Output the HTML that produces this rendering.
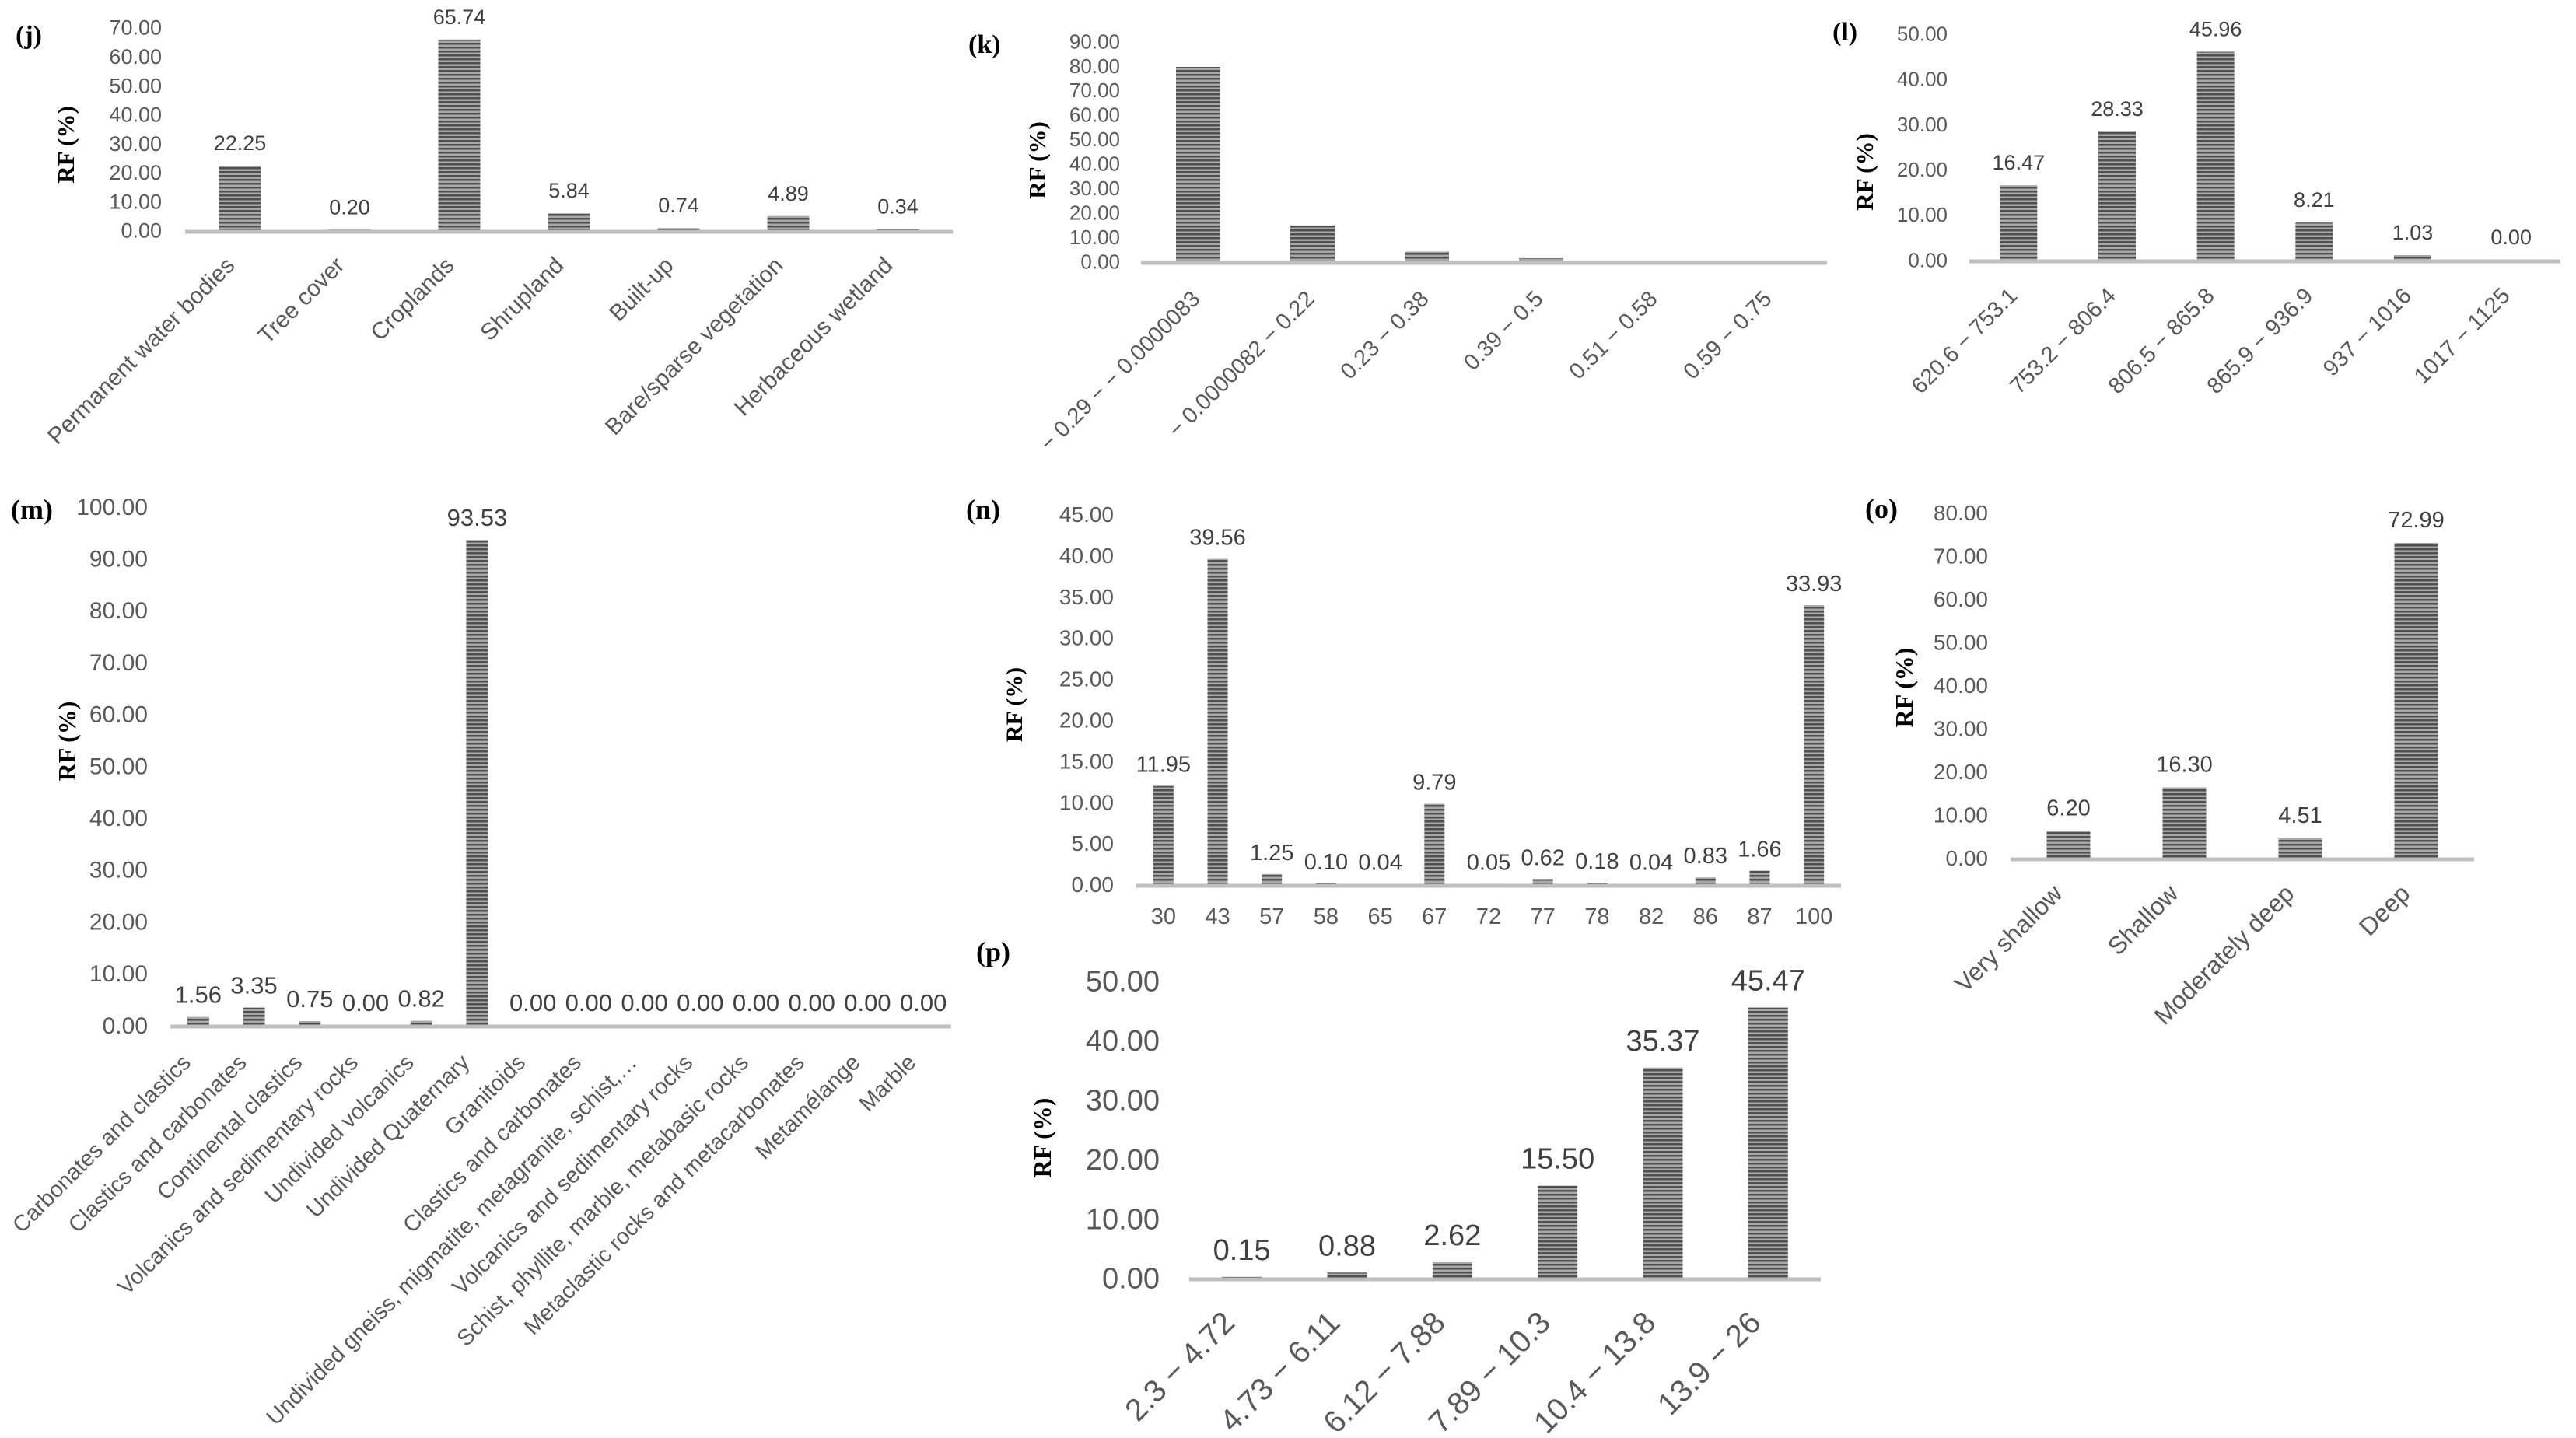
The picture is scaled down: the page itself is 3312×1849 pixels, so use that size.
<!DOCTYPE html>
<html><head><meta charset="utf-8"><style>
html,body{margin:0;padding:0;background:#fff;}
svg{display:block;}
text{font-family:"Liberation Sans",sans-serif;}
.pl{font-family:"Liberation Serif",serif;font-weight:bold;fill:#000;}
</style></head><body>
<svg id="fig" width="3312" height="1849" xmlns="http://www.w3.org/2000/svg">
<defs>
<pattern id="stripe" width="8" height="5" patternUnits="userSpaceOnUse">
<rect width="8" height="5" fill="#a8a8a8"/><rect width="8" height="2.5" fill="#4f4f4f"/>
</pattern>
</defs>
</svg>
<script>
// ---- data ----
const jCats=["Permanent water bodies","Tree cover","Croplands","Shrupland","Built-up","Bare/sparse vegetation","Herbaceous wetland"];
const jVals=[22.25,0.20,65.74,5.84,0.74,4.89,0.34];
const jTicks=[0,10,20,30,40,50,60,70];
const kCats=["\u2212 0.29 \u2212 \u2212 0.0000083","\u2212 0.0000082 \u2212 0.22","0.23 \u2212 0.38","0.39 \u2212 0.5","0.51 \u2212 0.58","0.59 \u2212 0.75"];
const kVals=[79.5,14.7,4.0,1.3,0,0];
const kTicks=[0,10,20,30,40,50,60,70,80,90];
const lCats=["620.6 \u2212 753.1","753.2 \u2212 806.4","806.5 \u2212 865.8","865.9 \u2212 936.9","937 \u2212 1016","1017 \u2212 1125"];
const lVals=[16.47,28.33,45.96,8.21,1.03,0.00];
const lTicks=[0,10,20,30,40,50];
const mCats=["Carbonates and clastics","Clastics and carbonates","Continental clastics","Volcanics and sedimentary rocks","Undivided volcanics","Undivided Quaternary","Granitoids","Clastics and carbonates","Undivided gneiss, migmatite, metagranite, schist,\u2026","Volcanics and sedimentary rocks","Schist, phyllite, marble, metabasic rocks","Metaclastic rocks and metacarbonates","Metam\u00e9lange","Marble"];
const mVals=[1.56,3.35,0.75,0.00,0.82,93.53,0,0,0,0,0,0,0,0];
const mTicks=[0,10,20,30,40,50,60,70,80,90,100];
const nCats=["30","43","57","58","65","67","72","77","78","82","86","87","100"];
const nVals=[11.95,39.56,1.25,0.10,0.04,9.79,0.05,0.62,0.18,0.04,0.83,1.66,33.93];
const nTicks=[0,5,10,15,20,25,30,35,40,45];
const oCats=["Very shallow","Shallow","Moderately deep","Deep"];
const oVals=[6.20,16.30,4.51,72.99];
const oTicks=[0,10,20,30,40,50,60,70,80];
const pCats=["2.3 \u2212 4.72","4.73 \u2212 6.11","6.12 \u2212 7.88","7.89 \u2212 10.3","10.4 \u2212 13.8","13.9 \u2212 26"];
const pVals=[0.15,0.88,2.62,15.50,35.37,45.47];
const pTicks=[0,10,20,30,40,50];

const svg=document.getElementById('fig');
const NS="http://www.w3.org/2000/svg";
function mk(tag,attrs,txt,parent){const e=document.createElementNS(NS,tag);for(const k in attrs)e.setAttribute(k,attrs[k]);if(txt!==undefined)e.textContent=txt;(parent||svg).appendChild(e);return e;}

function chart(id,cats,vals,ticks,c){
  const g=mk('g',{});
  
  
  const maxT=ticks[ticks.length-1];
  const y=v=>c.y0-(v/maxT)*(c.y0-c.yTop);
  const band=(c.x1-c.x0)/cats.length;
  const cx=i=>c.x0+(i+0.5)*band;
  const pl=mk('text',{x:c.plx,y:c.ply,'font-size':c.plfs,class:'pl'},'('+id+')',g);
  
  
  ticks.forEach(t=>{
    const tl=mk('text',{x:c.tr,y:y(t)+c.tfs*0.36,'font-size':c.tfs,'text-anchor':'end',fill:'#595959'},t.toFixed(2),g);
    
    
  });
  const yt=mk('text',{x:0,y:0,'font-size':c.yfs,class:'pl','text-anchor':'middle',transform:`translate(${c.ytx},${c.yty}) rotate(-90)`},'RF (%)',g);
  
  
  vals.forEach((v,i)=>{
    const top=y(v);
    if(v>0){
      const b=mk('rect',{x:cx(i)-c.bw/2,y:top,width:c.bw,height:c.y0-top,fill:'url(#stripe)'},undefined,g);
      
      
    }
    if(c.showVals){
      const vl=mk('text',{x:cx(i),y:top-c.vgap,'font-size':c.vfs,'text-anchor':'middle',fill:'#404040'},v.toFixed(2),g);
      
      
    }
  });
  const ax=mk('line',{x1:c.x0,x2:c.x1,y1:c.y0+2,y2:c.y0+2,stroke:'#bfbfbf','stroke-width':5},undefined,g);
  
  
  cats.forEach((t,i)=>{
    let e;
    if(c.horiz){
      e=mk('text',{x:cx(i),y:c.y0+c.lgap,'font-size':c.lfs,'text-anchor':'middle',fill:'#595959'},t,g);
    }else{
      const ax_=cx(i)+c.ldx, ay=c.y0+c.lgap;
      e=mk('text',{x:0,y:0,'font-size':c.lfs,'text-anchor':'end',fill:'#595959',transform:`translate(${ax_},${ay}) rotate(-45)`},t,g);
    }
    
    
  });
}

chart('j',jCats,jVals,jTicks,{x0:238,x1:1225,y0:296,yTop:35,tr:208,tfs:27,yfs:31,ytx:95,yty:186,plx:20,ply:56,plfs:34,bw:54,showVals:true,vfs:27,vgap:20,lfs:30,ldx:-5,lgap:47});
chart('k',kCats,kVals,kTicks,{x0:1467,x1:2349,y0:336,yTop:53,tr:1440,tfs:26,yfs:31,ytx:1344,yty:206,plx:1245,ply:68,plfs:34,bw:57,showVals:false,vfs:27,vgap:20,lfs:29,ldx:4,lgap:50});
chart('l',lCats,lVals,lTicks,{x0:2532,x1:3292,y0:334,yTop:43,tr:2504,tfs:26,yfs:31,ytx:2408,yty:221,plx:2356,ply:52,plfs:34,bw:48,showVals:true,vfs:27,vgap:20,lfs:29,ldx:0,lgap:48});
chart('m',mCats,mVals,mTicks,{x0:219,x1:1223,y0:1318,yTop:651,tr:190,tfs:30,yfs:32,ytx:97,yty:953,plx:14,ply:667,plfs:36,bw:28,showVals:true,vfs:31,vgap:18,lfs:29,ldx:-8,lgap:50});
chart('n',nCats,nVals,nTicks,{x0:1461,x1:2367,y0:1137,yTop:661,tr:1432,tfs:28,yfs:30,ytx:1314,yty:906,plx:1242,ply:667,plfs:36,bw:26,showVals:true,vfs:29,vgap:18,lfs:29,horiz:true,lgap:51});
chart('o',oCats,oVals,oTicks,{x0:2585,x1:3181,y0:1103,yTop:659,tr:2556,tfs:28,yfs:32,ytx:2459,yty:884,plx:2398,ply:666,plfs:36,bw:56,showVals:true,vfs:29,vgap:20,lfs:32,ldx:-6,lgap:48});
chart('p',pCats,pVals,pTicks,{x0:1529,x1:2341,y0:1643,yTop:1261,tr:1491,tfs:38,yfs:32,ytx:1351,yty:1463,plx:1255,ply:1236,plfs:36,bw:51,showVals:true,vfs:38,vgap:22,lfs:40,ldx:-7,lgap:60});
</script>
</body></html>
